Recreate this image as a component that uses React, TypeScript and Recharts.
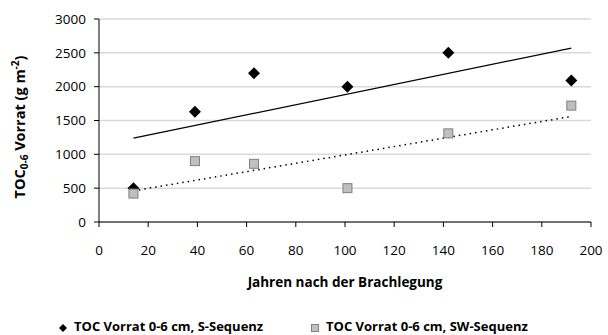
import { ComposedChart, Scatter, XAxis, YAxis, CartesianGrid, ReferenceLine, Label } from 'recharts';

// Jahre nach der Brachlegung
const years = [14, 39, 63, 101, 142, 192];
// TOC Vorrat 0-6 cm (g m-2)
const sSeq = [500, 1630, 2200, 2000, 2500, 2090];
const swSeq = [420, 900, 860, 500, 1310, 1720];
// lineare Trendlinien (Endpunkte)
const sTrend = [{ x: 14, y: 1240 }, { x: 192, y: 2570 }];
const swTrend = [{ x: 14, y: 460 }, { x: 192, y: 1560 }];

const xTicks = [0, 20, 40, 60, 80, 100, 120, 140, 160, 180, 200];
const yTicks = [0, 500, 1000, 1500, 2000, 2500, 3000];

const sData = years.map((x, i) => ({ x, y: sSeq[i] }));
const swData = years.map((x, i) => ({ x, y: swSeq[i] }));

const font = '"Open Sans", "Liberation Sans", sans-serif';

const Diamond = (props: any) => {
  const { cx, cy } = props;
  const r = 6;
  return <path d={`M${cx},${cy - r} L${cx + r},${cy} L${cx},${cy + r} L${cx - r},${cy} Z`} fill="#000" />;
};

const Square = (props: any) => {
  const { cx, cy } = props;
  const s = 9;
  return <rect x={cx - s / 2} y={cy - s / 2} width={s} height={s} fill="#bfbfbf" stroke="#808080" strokeWidth={1} />;
};

const YLabel = () => (
  <text
    transform="translate(25,127) rotate(-90)"
    textAnchor="middle"
    fontFamily={font}
    fontWeight="bold"
    fontSize={14.5}
    fill="#000"
  >
    TOC
    <tspan fontSize={10} dy={3}>0-6</tspan>
    <tspan dy={-3}> Vorrat (g m</tspan>
    <tspan fontSize={10} dy={-6}>-2</tspan>
    <tspan dy={6}>)</tspan>
  </text>
);

export default function App() {
  return (
    <div style={{ position: 'absolute', left: 0, top: 0, width: 608, height: 335, background: '#fff', overflow: 'hidden' }}>
      <ComposedChart width={608} height={335} margin={{ top: 19, right: 17, bottom: 83, left: 39 }}>
        <CartesianGrid horizontal vertical={false} stroke="#d9d9d9" strokeWidth={1.5} />
        <XAxis
          type="number"
          dataKey="x"
          domain={[0, 200]}
          ticks={xTicks}
          interval={0}
          height={30}
          stroke="#000"
          tickSize={5}
          tickMargin={18}
          tick={{ fill: '#000', fontSize: 13.5, fontFamily: font }}
          allowDataOverflow
        />
        <YAxis
          type="number"
          dataKey="y"
          domain={[0, 3000]}
          ticks={yTicks}
          interval={0}
          width={60}
          stroke="#000"
          tickSize={5}
          tickMargin={8}
          tick={{ fill: '#000', fontSize: 13.5, fontFamily: font }}
        >
          <Label content={<YLabel />} />
        </YAxis>
        <ReferenceLine segment={sTrend} stroke="#000" strokeWidth={1.3} ifOverflow="extendDomain" />
        <ReferenceLine segment={swTrend} stroke="#000" strokeWidth={1.5} strokeDasharray="1.5 4" ifOverflow="extendDomain" />
        <Scatter data={sData} shape={Diamond} isAnimationActive={false} />
        <Scatter data={swData} shape={Square} isAnimationActive={false} />
      </ComposedChart>
      <div
        style={{
          position: 'absolute',
          left: 0,
          top: 273,
          width: 690,
          textAlign: 'center',
          fontFamily: font,
          fontWeight: 'bold',
          fontSize: 13.5,
          color: '#000',
        }}
      >
        Jahren nach der Brachlegung
      </div>
      <div
        style={{
          position: 'absolute',
          left: 58,
          top: 317,
          whiteSpace: 'nowrap',
          fontFamily: font,
          fontWeight: 'bold',
          fontSize: 13,
          color: '#000',
        }}
      >
        <span style={{ display: 'inline-block', width: 252 }}>
          <svg width={10} height={10} style={{ marginRight: 6, verticalAlign: 'middle' }}>
            <path d="M5,1 L9,5 L5,9 L1,5 Z" fill="#000" />
          </svg>
          TOC Vorrat 0-6 cm, S-Sequenz
        </span>
        <span>
          <svg width={10} height={10} style={{ marginRight: 6, verticalAlign: 'middle' }}>
            <rect x={1.5} y={1.5} width={7} height={7} fill="#bfbfbf" stroke="#808080" />
          </svg>
          TOC Vorrat 0-6 cm, SW-Sequenz
        </span>
      </div>
    </div>
  );
}
